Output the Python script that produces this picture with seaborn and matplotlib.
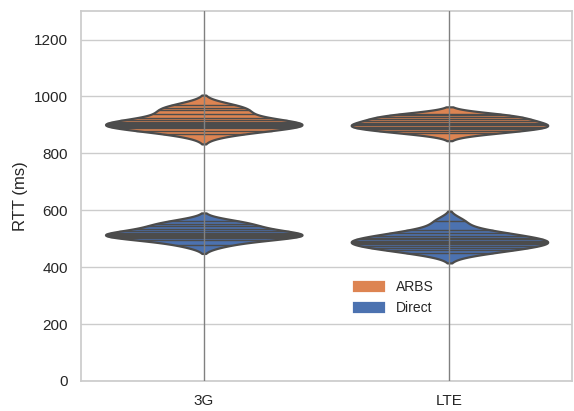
import matplotlib
matplotlib.use('Agg')
import matplotlib.pyplot as plt
import seaborn as sns
import pandas as pd

sns.set_theme(style='whitegrid')
plt.rcParams['font.family'] = ['Liberation Sans', 'DejaVu Sans']

# RTT samples (ms)
arbs_3g = [868, 880, 888, 893, 897, 900, 903, 906, 910, 916, 926, 940, 952, 960, 970]
direct_3g = [477, 494, 502, 507, 510, 513, 516, 520, 526, 535, 545, 553, 562]
arbs_lte = [870, 879, 885, 890, 894, 898, 903, 908, 914, 920, 927, 934, 938]
direct_lte = [450, 460, 468, 474, 480, 485, 489, 493, 498, 504, 511, 520, 530, 562]

networks = ['3G', 'LTE']
methods = ['ARBS', 'Direct']
palette = {'ARBS': '#dd8452', 'Direct': '#4c72b0'}

rows = []
for net, method, vals in [('3G', 'ARBS', arbs_3g), ('3G', 'Direct', direct_3g),
                          ('LTE', 'ARBS', arbs_lte), ('LTE', 'Direct', direct_lte)]:
    for v in vals:
        rows.append({'network': net, 'method': method, 'rtt': v})
df = pd.DataFrame(rows)

fig, ax = plt.subplots(figsize=(5.74, 4.11), dpi=100)
sns.violinplot(data=df, x='network', y='rtt', hue='method', order=networks,
               hue_order=methods, palette=palette, dodge=False, inner='stick',
               density_norm='width', width=0.8, saturation=1, linewidth=1.6,
               inner_kws={'linewidth': 1.0}, ax=ax)

for i in range(len(networks)):
    ax.axvline(i, color='gray', linewidth=1, zorder=3)

ax.set_ylim(0, 1300)
ax.set_xlabel('')
ax.set_ylabel('RTT (ms)')
leg = ax.legend(frameon=False, loc='center left', bbox_to_anchor=(0.53, 0.225),
                fontsize=10, handlelength=2.2)
for h in leg.legend_handles:
    h.set_edgecolor(h.get_facecolor())

fig.subplots_adjust(left=0.141, right=0.997, top=0.973, bottom=0.073)
plt.savefig('out.png', dpi=100)
